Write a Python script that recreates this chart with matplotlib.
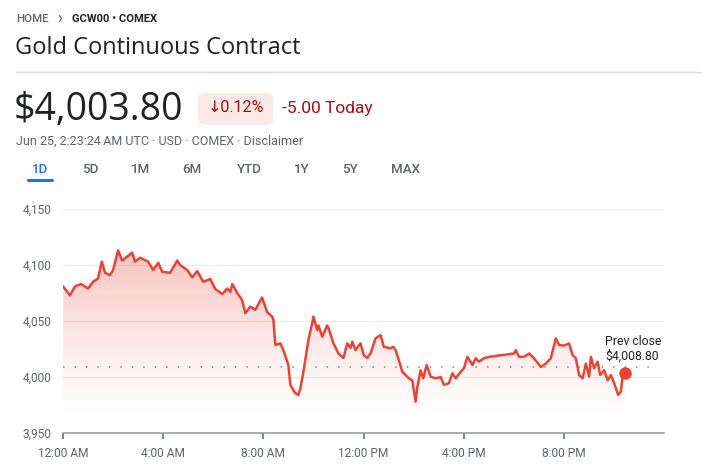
import matplotlib
matplotlib.use('Agg')
import matplotlib.pyplot as plt
import numpy as np
from matplotlib.patches import FancyBboxPatch, Polygon

# ---- data ----
hours = [0.01, 0.28, 0.48, 0.72, 1.0, 1.2, 1.4, 1.55, 1.68, 1.88, 2.0, 2.2, 2.36, 2.48, 2.76,
         2.88, 3.08, 3.4, 3.6, 3.8, 3.96, 4.28, 4.56, 4.68, 4.96, 5.16, 5.36, 5.6, 5.88, 6.08,
         6.36, 6.56, 6.68, 6.76, 6.96, 7.15, 7.28, 7.48, 7.68, 7.95, 8.15, 8.35, 8.4, 8.48,
         8.68, 8.8, 9.0, 9.08, 9.28, 9.4, 9.48, 9.6, 9.8, 9.95, 10.0, 10.15, 10.2, 10.35,
         10.55, 10.6, 10.8, 11.0, 11.2, 11.35, 11.48, 11.55, 11.68, 11.88, 12.01, 12.15,
         12.28, 12.48, 12.68, 12.81, 13.08, 13.19, 13.28, 13.41, 13.55, 13.68, 13.81, 13.95,
         14.08, 14.15, 14.28, 14.39, 14.52, 14.68, 14.88, 15.08, 15.21, 15.41, 15.55, 15.68,
         15.88, 16.01, 16.15, 16.35, 16.48, 16.61, 16.81, 17.01, 18.01, 18.08, 18.21, 18.41,
         18.61, 18.81, 19.08, 19.28, 19.48, 19.68, 19.81, 20.01, 20.21, 20.35, 20.48, 20.61,
         20.75, 20.88, 21.01, 21.08, 21.21, 21.35, 21.45, 21.61, 21.75, 21.88, 22.01, 22.17,
         22.28, 22.35, 22.44]
prices = [4080.6, 4073, 4081, 4083, 4079, 4085, 4088, 4103, 4093, 4091, 4095.5, 4113, 4104,
          4106, 4111, 4103, 4106.5, 4103, 4095.5, 4102, 4094, 4093, 4104, 4100, 4095.5, 4089,
          4094.6, 4085, 4087.5, 4078.6, 4074, 4079, 4076, 4083, 4075, 4068.8, 4057, 4062.8,
          4060, 4071, 4058, 4054, 4051, 4028.6, 4030, 4024, 4010.7, 3992.9, 3985.4, 3984,
          3990, 4004.7, 4033, 4048, 4054, 4042, 4046, 4036, 4046, 4043.75, 4030, 4021, 4017,
          4030, 4026, 4031.5, 4024, 4030, 4019.6, 4017, 4021, 4034.5, 4037.5, 4027, 4025.6,
          4027, 4024, 4015, 4004.7, 4001.8, 3998.8, 3997, 3978, 3991, 4006, 3998.8, 4010.7,
          4000.3, 3998.8, 4000, 3993, 3994.4, 4003.3, 3998.8, 4004.7, 4007.8, 4018, 4010.7,
          4016.7, 4013.7, 4016.7, 4018, 4021, 4024, 4018, 4018, 4021, 4016.7, 4009, 4012,
          4016.7, 4034.5, 4028.6, 4028, 4030, 4019.6, 4016.7, 4001.8, 3998.8, 4012, 4000.3,
          4018, 4007.8, 4013.7, 4001.8, 4006, 3997, 4001.8, 3994.4, 3984, 3987, 4001.8, 4003.8]
prev_close = 4008.80
y_ticks = [3950, 4000, 4050, 4100, 4150]
y_labels = ['3,950', '4,000', '4,050', '4,100', '4,150']
x_ticks = [0, 4, 8, 12, 16, 20]
x_labels = ['12:00 AM', '4:00 AM', '8:00 AM', '12:00 PM', '4:00 PM', '8:00 PM']
tabs = ['1D', '5D', '1M', '6M', 'YTD', '1Y', '5Y', 'MAX']
tab_x = [40, 90, 141, 192, 249, 302, 350, 406]

W, H = 702, 467
RED = '#ea4335'
GREY = '#5f6368'
DARK = '#202124'
FONT = ['Roboto', 'DejaVu Sans']

fig = plt.figure(figsize=(W / 100, H / 100), dpi=100)
fig.patch.set_facecolor('white')


def P(x, y):
    return x / W, 1 - y / H


# ---- header ----
fig.text(*P(16, 19), 'HOME', fontsize=8.2, color=GREY, family=FONT, weight='medium', va='center')
fig.text(*P(57, 18.5), '\u203a', fontsize=12, color=GREY, family=FONT, va='center')
fig.text(*P(72, 19), 'GCW00 \u2022 COMEX', fontsize=8.0, color=DARK, family=FONT, weight='bold', va='center')
fig.text(*P(15, 48), 'Gold Continuous Contract', fontsize=17, color=DARK, family=['Open Sans', 'DejaVu Sans'], va='center')
fig.add_artist(plt.Line2D([16 / W, 1], [1 - 72 / H] * 2, color='#dadce0', lw=1))
fig.text(*P(14, 110), '$4,003.80', fontsize=27, color=DARK, family=['Open Sans', 'DejaVu Sans'], va='center')
box = FancyBboxPatch(P(198, 125), 75 / W, 32 / H, boxstyle='round,pad=0,rounding_size=0.012',
                     transform=fig.transFigure, facecolor='#fce8e6', edgecolor='none')
fig.add_artist(box)
fig.text(*P(235.5, 108), '\u2193' + '0.12%', fontsize=11.5, color='#a50e0e', family=FONT, va='center', ha='center')
fig.text(*P(282, 108), '-5.00 Today', fontsize=12.5, color='#a50e0e', family=FONT, va='center')
fig.text(*P(16, 141), 'Jun 25, 2:23:24\u2009AM UTC \u00b7 USD \u00b7 COMEX \u00b7 Disclaimer', fontsize=9.0,
         color=GREY, family=FONT, va='center')
for lab, tx in zip(tabs, tab_x):
    fig.text(*P(tx, 169), lab, fontsize=9.6, color='#1a73e8' if lab == '1D' else GREY,
             family=FONT, weight='medium', va='center', ha='center')
fig.add_artist(plt.Line2D([28 / W, 52 / W], [1 - 180 / H] * 2, color='#1a73e8', lw=2.2,
                          solid_capstyle='round'))

# ---- chart ----
ax = fig.add_axes([63 / W, 1 - 433 / H, 601 / W, 224 / H])
ax.set_facecolor('none')
ax.set_xlim(0, 24)
ax.set_ylim(3950, 4150)

# gradient fill under line
grad = np.linspace(0, 1, 256)
rgba = np.zeros((256, 1, 4))
rgba[:, 0, 0], rgba[:, 0, 1], rgba[:, 0, 2] = 0.918, 0.263, 0.208
rgba[:, 0, 3] = np.clip((grad - 0.05) / 0.8, 0, 1) ** 1.3 * 0.34
img = ax.imshow(rgba, extent=[0, 24, 3950, 4150], origin='lower', aspect='auto', zorder=1)
poly_pts = [(hours[0], 3950)] + list(zip(hours, prices)) + [(hours[-1], 3950)]
poly = Polygon(poly_pts, closed=True, transform=ax.transData, facecolor='none', edgecolor='none')
ax.add_patch(poly)
img.set_clip_path(poly)

ax.plot(hours, prices, color=RED, lw=1.8, zorder=3, solid_joinstyle='round')
ax.plot([hours[-1]], [prices[-1]], 'o', color=RED, ms=8, zorder=4)
ax.plot([0, 23.7], [prev_close, prev_close], color='#80868b', lw=1.1, linestyle=(0, (1, 6.5)), zorder=2)
ax.text(21.64, 4032.0, 'Prev close', fontsize=8.8, color=DARK, family=FONT, va='center')
ax.text(21.64, 4018.5, '$4,008.80', fontsize=8.8, color=DARK, family=FONT, va='center')

ax.set_yticks(y_ticks)
ax.set_yticklabels(y_labels)
ax.set_xticks(x_ticks)
ax.set_xticklabels(x_labels)
ax.yaxis.grid(True, color='#ececec', lw=1)
ax.set_axisbelow(True)
for s in ['top', 'right', 'left']:
    ax.spines[s].set_visible(False)
ax.spines['bottom'].set_color('#9aa0a6')
ax.spines['bottom'].set_linewidth(1.2)
ax.tick_params(axis='y', length=0, pad=8, labelsize=8.6, labelcolor=GREY)
ax.tick_params(axis='x', length=4, width=1.5, color='#80868b', pad=6, labelsize=8.6, labelcolor=GREY)
for t in ax.get_xticklabels() + ax.get_yticklabels():
    t.set_family(FONT)

fig.savefig('out.png', dpi=100, facecolor='white')
